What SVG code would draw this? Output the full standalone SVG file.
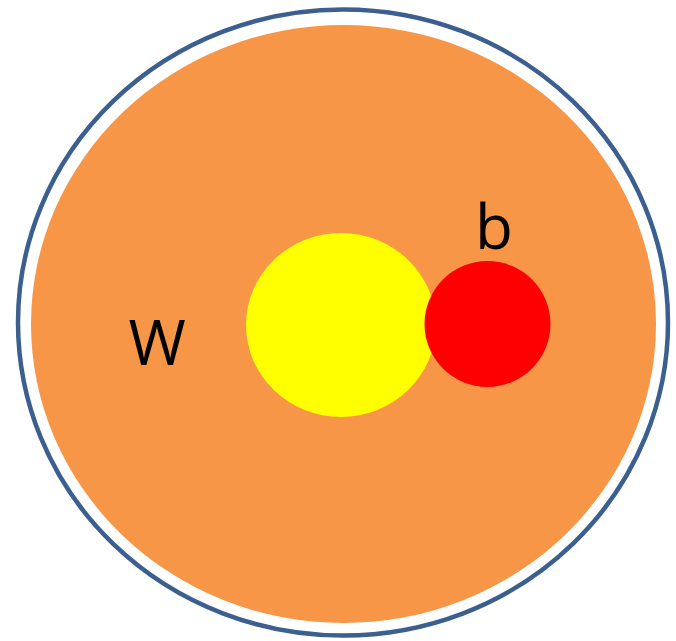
<svg xmlns="http://www.w3.org/2000/svg" width="676" height="641" viewBox="0 0 676 641">
<style>
.lbl{font-family:"Open Sans","Liberation Sans",sans-serif;font-size:62px;fill:#000;text-anchor:middle}
</style>
<rect width="676" height="641" fill="#fff"/>
<g id="outer"><ellipse cx="343" cy="322.5" rx="325" ry="313" fill="none" stroke="#3b5f8e" stroke-width="4.5"/></g>
<g id="W"><ellipse cx="343.5" cy="324" rx="312.5" ry="299" fill="#f79646"/><text class="lbl" x="157" y="365">W</text></g>
<g id="yellow"><ellipse cx="341" cy="325" rx="95" ry="92" fill="#ffff00"/></g>
<g id="b"><circle cx="487.5" cy="324" r="63" fill="#ff0000"/><text class="lbl" x="494" y="249">b</text></g>
<g id="connectors"/>
</svg>
